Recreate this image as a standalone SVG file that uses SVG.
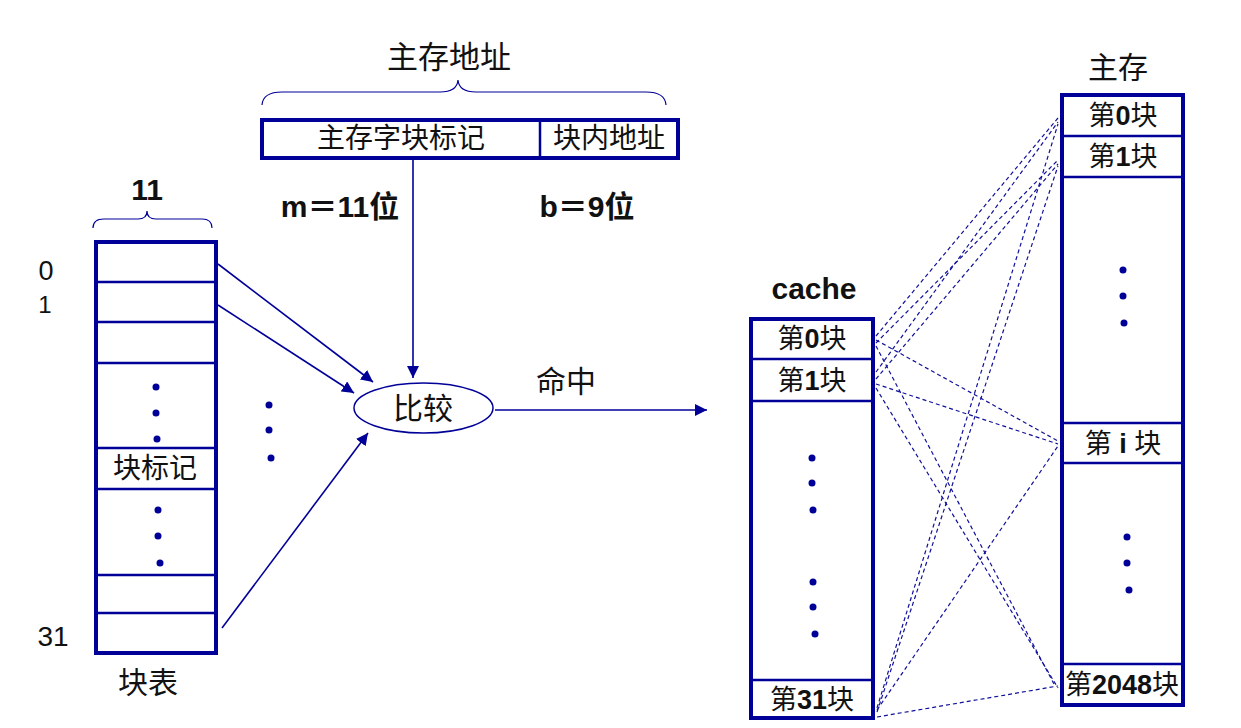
<svg xmlns="http://www.w3.org/2000/svg" width="1241" height="728" viewBox="0 0 1241 728">
<defs>
<marker id="ah" viewBox="0 0 10 10" refX="10" refY="5" markerWidth="12" markerHeight="12" markerUnits="userSpaceOnUse" orient="auto">
<path d="M0,0 L10,5 L0,10 z" fill="#000099"/>
</marker>
<style>
.box{fill:#fff;stroke:#000099;stroke-width:4}
.row{stroke:#000099;stroke-width:2.5;fill:none}
.brace{fill:none;stroke:#000099;stroke-width:1.2}
.arr{stroke:#000099;stroke-width:1.6;fill:none;marker-end:url(#ah)}
.dash{stroke:#10109a;stroke-width:1.2;stroke-dasharray:4 3;fill:none}
.dot{fill:#000099}
.cn{font-family:"Liberation Sans","Noto Sans CJK SC",sans-serif;fill:#111;text-anchor:middle}
.b{font-weight:bold}
</style>
</defs>
<rect width="1241" height="728" fill="#fff"/>

<g id="address">
<path class="brace" d="M262,105 Q263,92 282,92 L440,92 Q457,92 458,80 Q459,92 476,92 L646,92 Q665,92 666,105"/>
<text class="cn" x="449" y="68" font-size="31">主存地址</text>
<rect class="box" x="262" y="120" width="416" height="38"/>
<line class="row" x1="540" y1="120" x2="540" y2="158" stroke-width="3"/>
<text class="cn" x="401" y="148" font-size="28">主存字块标记</text>
<text class="cn" x="609" y="148" font-size="28">块内地址</text>
<text class="cn b" x="340" y="217" font-size="30">m＝11位</text>
<text class="cn b" x="587" y="217" font-size="30">b＝9位</text>
</g>

<g id="blocktable">
<path class="brace" d="M93,228 Q93,219 104,219 L138,219 Q147,219 147,211 Q147,219 156,219 L202,219 Q212,219 212,228"/>
<text class="cn b" x="147" y="200" font-size="30">11</text>
<text class="cn" x="46" y="280" font-size="27">0</text>
<text class="cn" x="45" y="313" font-size="24">1</text>
<text class="cn" x="53" y="646" font-size="28">31</text>
<rect class="box" x="96" y="242" width="120" height="411"/>
<line class="row" x1="96" y1="282" x2="216" y2="282"/>
<line class="row" x1="96" y1="322" x2="216" y2="322"/>
<line class="row" x1="96" y1="363" x2="216" y2="363"/>
<line class="row" x1="96" y1="448" x2="216" y2="448"/>
<line class="row" x1="96" y1="489" x2="216" y2="489"/>
<line class="row" x1="96" y1="575" x2="216" y2="575"/>
<line class="row" x1="96" y1="613" x2="216" y2="613"/>
<circle class="dot" cx="156" cy="387" r="3.5"/>
<circle class="dot" cx="156" cy="413" r="3.5"/>
<circle class="dot" cx="157" cy="439" r="3.5"/>
<text class="cn" x="155" y="478" font-size="28">块标记</text>
<circle class="dot" cx="158" cy="510" r="3.5"/>
<circle class="dot" cx="158" cy="536" r="3.5"/>
<circle class="dot" cx="160" cy="563" r="3.5"/>
<text class="cn" x="148" y="693" font-size="30">块表</text>
</g>

<g id="middots">
<circle class="dot" cx="269" cy="405" r="3.5"/>
<circle class="dot" cx="269" cy="430" r="3.5"/>
<circle class="dot" cx="271" cy="458" r="3.5"/>
</g>

<g id="compare">
<ellipse cx="423.5" cy="408" rx="69.5" ry="25" fill="#fff" stroke="#000099" stroke-width="1.5"/>
<text class="cn" x="423" y="419" font-size="30">比较</text>
<text class="cn" x="566" y="392" font-size="30">命中</text>
</g>

<g id="cache">
<text class="cn b" x="814" y="299" font-size="30">cache</text>
<rect class="box" x="751" y="319" width="122" height="399"/>
<line class="row" x1="751" y1="359" x2="873" y2="359"/>
<line class="row" x1="751" y1="401" x2="873" y2="401"/>
<line class="row" x1="751" y1="680" x2="873" y2="680"/>
<text class="cn" x="812" y="348" font-size="27">第<tspan class="b">0</tspan>块</text>
<text class="cn" x="812" y="390" font-size="27">第<tspan class="b">1</tspan>块</text>
<text class="cn" x="812" y="709" font-size="27">第<tspan class="b">31</tspan>块</text>
<circle class="dot" cx="812" cy="458" r="3.5"/>
<circle class="dot" cx="812" cy="483" r="3.5"/>
<circle class="dot" cx="813" cy="510" r="3.5"/>
<circle class="dot" cx="813" cy="582" r="3.5"/>
<circle class="dot" cx="813" cy="607" r="3.5"/>
<circle class="dot" cx="815" cy="634" r="3.5"/>
</g>

<g id="mainmem">
<text class="cn" x="1118" y="78" font-size="30">主存</text>
<rect class="box" x="1062" y="95" width="121" height="610"/>
<line class="row" x1="1062" y1="136" x2="1183" y2="136"/>
<line class="row" x1="1062" y1="177" x2="1183" y2="177"/>
<line class="row" x1="1062" y1="423" x2="1183" y2="423"/>
<line class="row" x1="1062" y1="463" x2="1183" y2="463"/>
<line class="row" x1="1062" y1="664" x2="1183" y2="664"/>
<text class="cn" x="1123" y="125" font-size="27">第<tspan class="b">0</tspan>块</text>
<text class="cn" x="1123" y="166" font-size="27">第<tspan class="b">1</tspan>块</text>
<text class="cn" x="1123" y="453" font-size="27">第 <tspan class="b">i</tspan> 块</text>
<text class="cn" x="1122" y="694" font-size="27">第<tspan class="b">2048</tspan>块</text>
<circle class="dot" cx="1123" cy="270" r="3.5"/>
<circle class="dot" cx="1123" cy="296" r="3.5"/>
<circle class="dot" cx="1124" cy="323" r="3.5"/>
<circle class="dot" cx="1127" cy="537" r="3.5"/>
<circle class="dot" cx="1127" cy="563" r="3.5"/>
<circle class="dot" cx="1129" cy="590" r="3.5"/>
</g>

<g id="connectors">
<line class="arr" x1="413" y1="160" x2="413" y2="378"/>
<line class="arr" x1="218" y1="264" x2="373" y2="382"/>
<line class="arr" x1="218" y1="305" x2="354" y2="393"/>
<line class="arr" x1="222" y1="628" x2="368" y2="433"/>
<line class="arr" x1="495" y1="410" x2="707" y2="410"/>
<line class="dash" x1="876" y1="336" x2="1058" y2="118"/>
<line class="dash" x1="876" y1="343" x2="1058" y2="160"/>
<line class="dash" x1="876" y1="340" x2="1058" y2="441"/>
<line class="dash" x1="876" y1="346" x2="1055" y2="686"/>
<line class="dash" x1="876" y1="372" x2="1058" y2="122"/>
<line class="dash" x1="876" y1="379" x2="1058" y2="164"/>
<line class="dash" x1="876" y1="384" x2="1058" y2="444"/>
<line class="dash" x1="876" y1="388" x2="1058" y2="688"/>
<line class="dash" x1="877" y1="708" x2="1058" y2="124"/>
<line class="dash" x1="877" y1="712" x2="1058" y2="166"/>
<line class="dash" x1="877" y1="710" x2="1058" y2="446"/>
<line class="dash" x1="877" y1="717" x2="1058" y2="686"/>
</g>
</svg>
